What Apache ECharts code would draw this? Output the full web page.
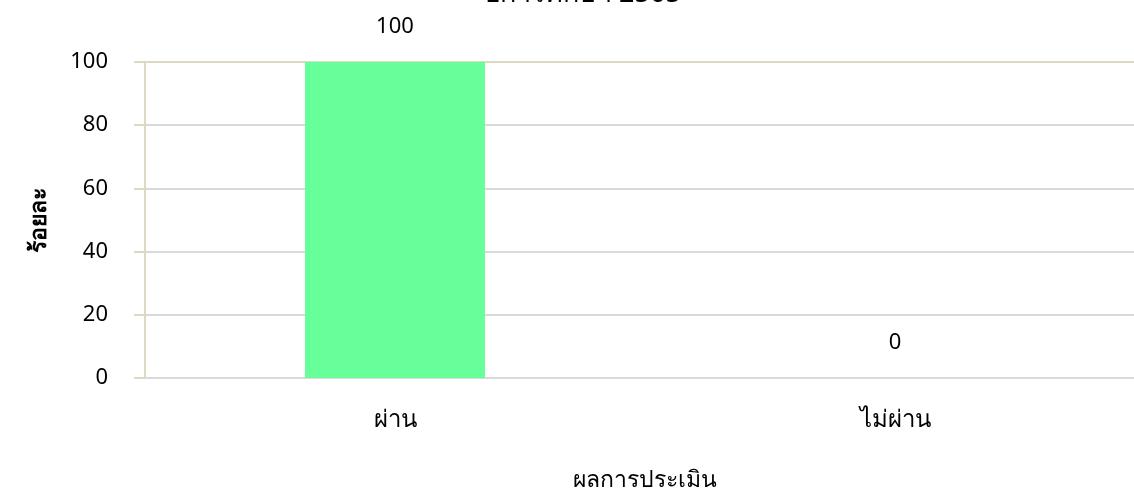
<!DOCTYPE html>
<html><head><meta charset="utf-8">
<script src="https://cdn.jsdelivr.net/npm/echarts@6/dist/echarts.min.js"></script>
<style>html,body{margin:0;padding:0;background:#fff}#c{width:1134px;height:493px}</style>
</head><body><div id="c"></div>
<script>
const titleText = 'ปีการศึกษา 2565';
const categories = ['ผ่าน', 'ไม่ผ่าน'];
const values = [100, 0];
const yTicks = [0, 20, 40, 60, 80, 100];
const xName = 'ผลการประเมิน';
const yName = 'ร้อยละ';

const FONT = 'Noto Sans';
const chart = echarts.init(document.getElementById('c'));
chart.setOption({
  animation: false,
  title: {
    text: titleText, left: 577, textAlign: 'center', top: -24,
    textStyle: { fontFamily: FONT, fontSize: 27, fontWeight: 'normal', color: '#000' }
  },
  grid: { left: 145, right: -11, top: 62, bottom: 115, containLabel: false, outerBoundsMode: 'none' },
  xAxis: {
    type: 'category', data: categories,
    name: xName, nameLocation: 'middle', nameGap: 91,
    nameTextStyle: { fontFamily: FONT, fontSize: 23, color: '#000' },
    axisLine: { lineStyle: { color: '#d9d9d9', width: 2 } },
    axisTick: { show: false },
    axisLabel: { fontFamily: FONT, fontSize: 24, color: '#000', margin: 30 }
  },
  yAxis: {
    type: 'value', min: yTicks[0], max: yTicks[yTicks.length - 1], interval: 20,
    name: yName, nameLocation: 'middle', nameGap: 94, nameRotate: 90,
    nameTextStyle: { fontFamily: FONT, fontSize: 23, fontWeight: 'bold', color: '#000' },
    axisLine: { show: true, lineStyle: { color: '#ddd9c3', width: 2 } },
    axisTick: { show: true, length: 11, lineStyle: { color: '#ddd9c3', width: 2 } },
    axisLabel: { fontFamily: FONT, fontSize: 22, color: '#000', margin: 37 },
    splitLine: { lineStyle: { color: ['#d9d9d9', '#d9d9d9', '#d9d9d9', '#d9d9d9', '#d9d9d9', '#ddd9c3'], width: 2 } }
  },
  series: [{
    type: 'bar', data: values, barWidth: '36%',
    itemStyle: { color: '#66ff99' },
    label: { show: true, position: 'top', distance: 24, fontFamily: FONT, fontSize: 22, color: '#000' }
  }]
});
</script></body></html>
